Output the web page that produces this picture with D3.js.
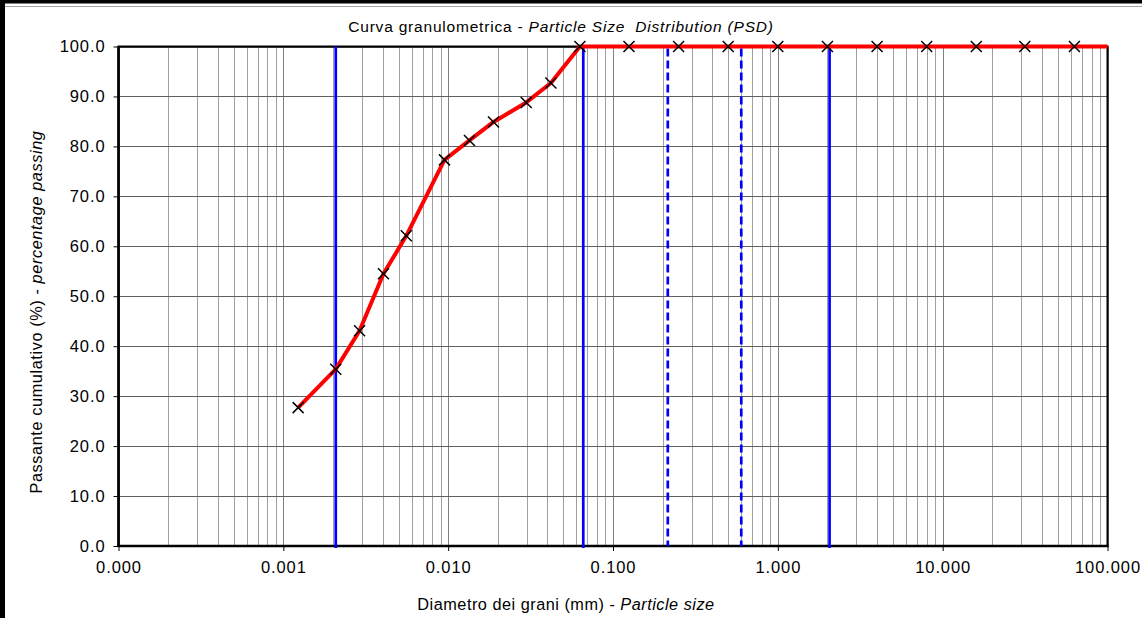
<!DOCTYPE html>
<html><head><meta charset="utf-8">
<script src="https://cdn.jsdelivr.net/npm/d3@7/dist/d3.min.js"></script>
<style>
body{margin:0;background:#fff;}
svg text{font-family:"Liberation Sans",Arial,sans-serif;fill:#000;white-space:pre;}
</style></head>
<body>
<svg id="chart" width="1142" height="618"></svg>
<script>
// ---- data ----
const sieveSize = [0.00123,0.00208,0.0029,0.00405,0.00557,0.0095,0.01347,0.01884,0.02976,0.042,
                   0.063,0.125,0.25,0.5,1,2,4,8,16,31.5,63];
const passing   = [27.7,35.4,43.1,54.5,62.1,77.3,81.2,84.9,88.8,92.7,
                   100,100,100,100,100,100,100,100,100,100,100];
const curveEndSize = [100];
const curveEndPassing = [100];
const solidLimits = [0.00208,0.066,2.06];
const dashedLimits = [0.215,0.6];
const xTickValues = [0.0001,0.001,0.01,0.1,1,10,100];
const yTickValues = [0,10,20,30,40,50,60,70,80,90,100];
const titleMain = "Curva granulometrica - ";
const titleItalic = "Particle Size  Distribution (PSD)";
const xLabelMain = "Diametro dei grani (mm) - ";
const xLabelItalic = "Particle size";
const yLabelMain = "Passante cumulativo (%) - ";
const yLabelItalic = "percentage passing";

// ---- layout ----
const L = 118.5, R = 1107.5, T = 46.5, B = 546;
const svg = d3.select("#chart");
const x = d3.scaleLog().domain([0.0001,100]).range([L,R]);
const y = d3.scaleLinear().domain([0,100]).range([B,T]);

// outer frame
svg.append("rect").attr("x",0).attr("y",0).attr("width",1142).attr("height",3.5).attr("fill","#000");
svg.append("rect").attr("x",0).attr("y",0).attr("width",5).attr("height",618).attr("fill","#000");
svg.append("line").attr("x1",5).attr("x2",1142).attr("y1",6.5).attr("y2",6.5).attr("stroke","#a0a0a0").attr("stroke-width",1);

// minor vertical grid
const minors = [];
for (let e=-4;e<2;e++) for (let m=2;m<=9;m++) minors.push(m*Math.pow(10,e));
svg.append("g").selectAll("line").data(minors).join("line")
  .attr("x1",d=>Math.round(x(d))+0.5).attr("x2",d=>Math.round(x(d))+0.5)
  .attr("y1",T).attr("y2",B)
  .attr("stroke","#404040").attr("stroke-width",1).attr("stroke-dasharray","1,1");
// major vertical grid
svg.append("g").selectAll("line").data(xTickValues).join("line")
  .attr("x1",d=>Math.round(x(d))+0.5).attr("x2",d=>Math.round(x(d))+0.5)
  .attr("y1",T).attr("y2",B)
  .attr("stroke","#808080").attr("stroke-width",1);
// horizontal grid
svg.append("g").selectAll("line").data(yTickValues).join("line")
  .attr("x1",L).attr("x2",R)
  .attr("y1",d=>Math.round(y(d))+0.5).attr("y2",d=>Math.round(y(d))+0.5)
  .attr("stroke","#606060").attr("stroke-width",1);

// axes
const yAxis = d3.axisLeft(y).tickValues(yTickValues).tickFormat(d3.format(".1f")).tickSize(5).tickPadding(9);
const gy = svg.append("g").attr("transform",`translate(${L},0)`).call(yAxis);
const xAxis = d3.axisBottom(x).tickValues(xTickValues).tickFormat(d3.format(".3f")).tickSize(5).tickPadding(10);
const gx = svg.append("g").attr("transform",`translate(0,${B})`).call(xAxis);
[gx,gy].forEach(g=>{
  g.select(".domain").remove();
  g.selectAll(".tick line").attr("stroke","#000").attr("stroke-width",1);
  g.selectAll(".tick text").attr("font-size",16.5).attr("letter-spacing",0.9).attr("fill","#000")
   .style("font-family",'"Liberation Sans",Arial,sans-serif');
});
gy.selectAll(".tick text").attr("dx",1);

// plot frame
svg.append("rect").attr("x",L).attr("y",T).attr("width",R-L).attr("height",B-T)
  .attr("fill","none").attr("stroke","#000").attr("stroke-width",2);
svg.append("line").attr("x1",L).attr("x2",L).attr("y1",T).attr("y2",B+1).attr("stroke","#000").attr("stroke-width",2.5);
svg.append("line").attr("x1",L-1).attr("x2",R+1).attr("y1",B).attr("y2",B).attr("stroke","#000").attr("stroke-width",2.5);

// limit lines
svg.append("g").selectAll("line").data(solidLimits).join("line")
  .attr("x1",d=>x(d)).attr("x2",d=>x(d)).attr("y1",T).attr("y2",B+2)
  .attr("stroke","#0000ff").attr("stroke-width",2.7);
svg.append("g").selectAll("line").data(dashedLimits).join("line")
  .attr("x1",d=>x(d)).attr("x2",d=>x(d)).attr("y1",T+2).attr("y2",B)
  .attr("stroke","#0000ff").attr("stroke-width",2.7).attr("stroke-dasharray","8,4");

// curve
const pts = sieveSize.map((s,i)=>({s, p:passing[i]}));
const linePts = pts.concat(curveEndSize.map((s,i)=>({s, p:curveEndPassing[i]})));
svg.append("path").datum(linePts)
  .attr("d", d3.line().x(d=>x(d.s)).y(d=>y(d.p)))
  .attr("fill","none").attr("stroke","#ff0000").attr("stroke-width",4).attr("stroke-linejoin","round");

// markers
const ms = 5.5;
const mk = svg.append("g").selectAll("g").data(pts).join("g")
  .attr("transform",d=>`translate(${x(d.s)},${y(d.p)})`);
mk.append("path").attr("d",`M${-ms},${-ms}L${ms},${ms}M${-ms},${ms}L${ms},${-ms}`)
  .attr("stroke","#000").attr("stroke-width",1.5).attr("fill","none");

// title
const t = svg.append("text").attr("x",561).attr("y",32).attr("text-anchor","middle")
  .attr("font-size",15.5).attr("letter-spacing",0.8);
t.append("tspan").text(titleMain);
t.append("tspan").attr("font-style","italic").text(titleItalic);
// x label
const xl = svg.append("text").attr("x",566).attr("y",610).attr("text-anchor","middle")
  .attr("font-size",16.3).attr("letter-spacing",0.5);
xl.append("tspan").text(xLabelMain);
xl.append("tspan").attr("font-style","italic").text(xLabelItalic);
// y label
const yl = svg.append("text").attr("transform","translate(41.5,312) rotate(-90)").attr("text-anchor","middle")
  .attr("font-size",16.3).attr("letter-spacing",0.6);
yl.append("tspan").text(yLabelMain);
yl.append("tspan").attr("font-style","italic").text(yLabelItalic);
</script>
</body></html>
